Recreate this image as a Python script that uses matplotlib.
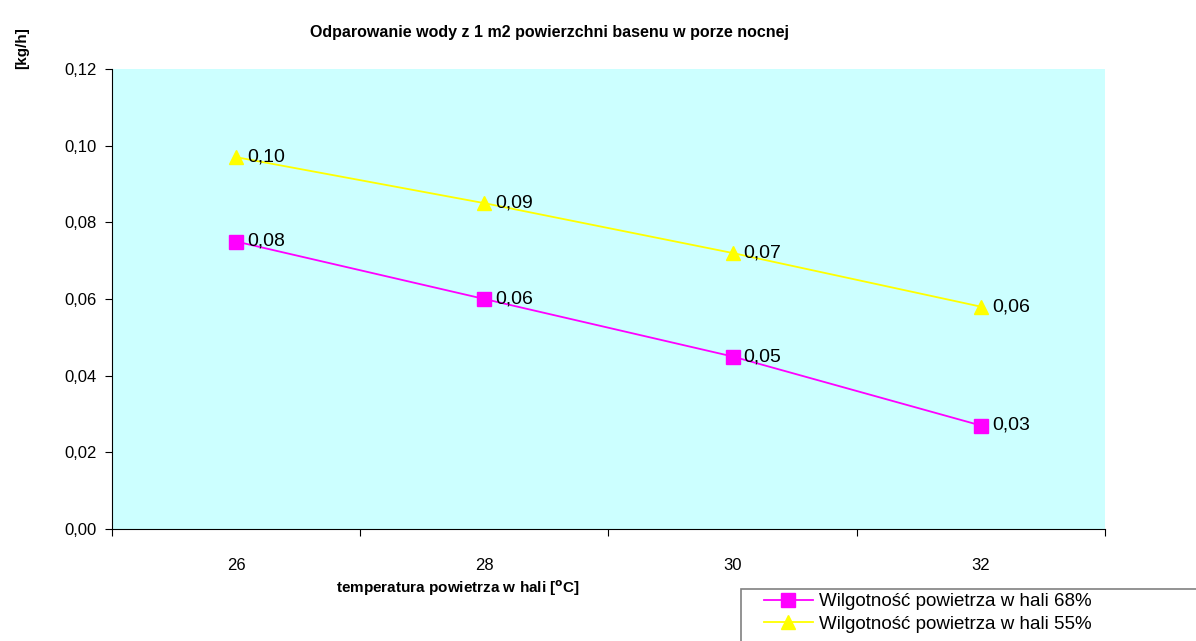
import matplotlib
matplotlib.use("Agg")
import matplotlib.pyplot as plt
from matplotlib.patches import Rectangle

plt.rcParams['font.family'] = ['Liberation Sans', 'DejaVu Sans']

# ---- data ----
categories = ['26', '28', '30', '32']
series_68 = [0.075, 0.060, 0.045, 0.027]
series_55 = [0.097, 0.085, 0.072, 0.058]
labels_68 = ['0,08', '0,06', '0,05', '0,03']
labels_55 = ['0,10', '0,09', '0,07', '0,06']
yticks = [0.00, 0.02, 0.04, 0.06, 0.08, 0.10, 0.12]
ytick_labels = ['0,00', '0,02', '0,04', '0,06', '0,08', '0,10', '0,12']
name_68 = 'Wilgotność powietrza w hali 68%'
name_55 = 'Wilgotność powietrza w hali 55%'
title = 'Odparowanie wody z 1 m2 powierzchni basenu w porze nocnej'

W, H = 1196, 641
fig = plt.figure(figsize=(W / 100, H / 100), dpi=100)
ax = fig.add_axes([112 / W, 1 - 529 / H, (1105 - 112) / W, (529 - 69) / H])
ax.set_facecolor('#ccffff')

x = list(range(len(categories)))
l1, = ax.plot(x, series_68, color='#ff00ff', lw=1.3, marker='s', ms=9.5,
              mec='#ff00ff', mfc='#ff00ff', label=name_68)
l2, = ax.plot(x, series_55, color='#ffff00', lw=1.3, marker='^', ms=10,
              mec='#ffff00', mfc='#ffff00', label=name_55)

for xi, yi, t in zip(x, series_68, labels_68):
    ax.annotate(t, (xi, yi), xytext=(8, 0), textcoords='offset points',
                ha='left', va='center', fontsize=14, color='black')
for xi, yi, t in zip(x, series_55, labels_55):
    ax.annotate(t, (xi, yi), xytext=(8, 0), textcoords='offset points',
                ha='left', va='center', fontsize=14, color='black')

ax.set_xlim(-0.5, len(categories) - 0.5)
ax.set_ylim(0, 0.12)
ax.set_yticks(yticks)
ax.set_yticklabels(ytick_labels, fontsize=12)
ax.set_xticks(x)
ax.set_xticklabels(categories, fontsize=12)
ax.set_xticks([i - 0.5 for i in range(len(categories) + 1)], minor=True)
ax.tick_params(axis='x', which='major', length=0, pad=21)
ax.tick_params(axis='x', which='minor', length=5, width=0.8, direction='out')
ax.tick_params(axis='y', length=5, width=0.8, direction='out', pad=6)

for s in ['top', 'right']:
    ax.spines[s].set_visible(False)
for s in ['left', 'bottom']:
    ax.spines[s].set_linewidth(0.8)

fig.text(550 / W, 1 - 32 / H, title, ha='center', va='center',
         fontsize=11.5, fontweight='bold')
fig.text(22 / W, 1 - 48 / H, '[kg/h]', rotation=90, ha='center', va='center',
         fontsize=11, fontweight='bold')
fig.text(336 / W, 1 - 588 / H,
         r'temperatura powietrza w hali [$\mathbf{^{o}}$C]',
         ha='left', va='center', fontsize=11, fontweight='bold')

# legend box (extends past the figure edge as in the reference)
fig.patches.append(Rectangle((741 / W, -0.2), 0.5, 0.2 + 1 - 589 / H,
                             transform=fig.transFigure, fill=True,
                             facecolor='white', edgecolor='#808080', lw=1.2))
fig.legend(handles=[l1, l2], loc='upper left',
           bbox_to_anchor=(764 / W, 1 - 593 / H), frameon=False,
           fontsize=13.5, handlelength=2.6, handletextpad=0.35,
           borderpad=0, labelspacing=0.3, borderaxespad=0)

fig.savefig('out.png', dpi=100)
